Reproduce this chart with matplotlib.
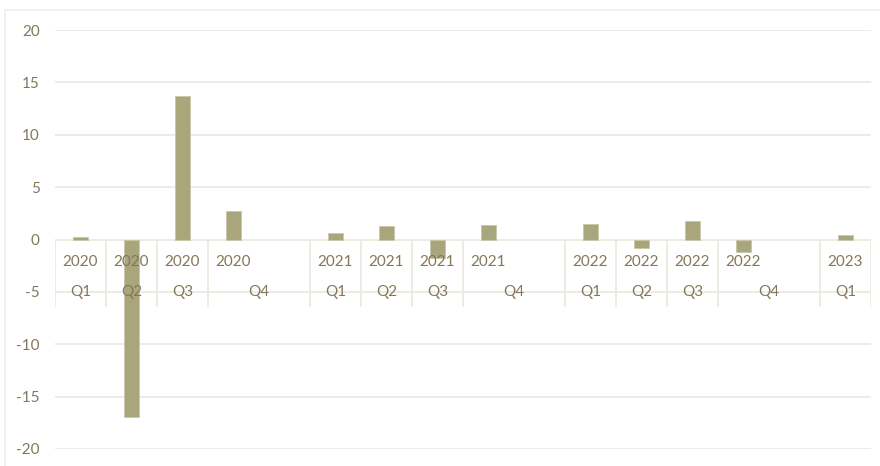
import matplotlib.pyplot as plt

# one slot per quarter; Q4 takes two slots (second one empty)
years = ['2020', '2020', '2020', '2020', '',
         '2021', '2021', '2021', '2021', '',
         '2022', '2022', '2022', '2022', '',
         '2023']
quarters = ['Q1', 'Q2', 'Q3', 'Q4', '',
            'Q1', 'Q2', 'Q3', 'Q4', '',
            'Q1', 'Q2', 'Q3', 'Q4', '',
            'Q1']
values = [0.2, -16.9, 13.7, 2.7, None,
          0.6, 1.3, -1.8, 1.4, None,
          1.45, -0.8, 1.75, -1.15, None,
          0.4]

bar_color = '#A9A67B'
text_color = '#847759'
grid_color = '#ECEADF'

plt.rcParams['font.family'] = ['Lato', 'DejaVu Sans']
plt.rcParams['axes.unicode_minus'] = False

fig = plt.figure(figsize=(8.8, 4.66), dpi=100)
ax = fig.add_axes([55 / 880, 17 / 466, 816 / 880, 419 / 466])

xs = [i for i, v in enumerate(values) if v is not None]
vs = [v for v in values if v is not None]
ax.bar(xs, vs, width=0.31, color=bar_color, edgecolor='#C9C7A8',
       linewidth=0.6, zorder=3)

ax.set_xlim(-0.5, len(values) - 0.5)
ax.set_ylim(-20, 20)
ax.set_yticks(range(-20, 21, 5))
ax.set_xticks([])
ax.yaxis.grid(True, color=grid_color, linewidth=1.3, zorder=0)
ax.set_axisbelow(True)
for s in ax.spines.values():
    s.set_visible(False)
ax.tick_params(axis='y', length=0, pad=11, labelsize=11,
               labelcolor=text_color)

# multi-level category labels
for i, (yr, q) in enumerate(zip(years, quarters)):
    if yr:
        ax.text(i, -2.15, yr, ha='center', va='center', fontsize=11,
                color=text_color, zorder=4)
    if q:
        xq = i + 0.5 if q == 'Q4' else i
        ax.text(xq, -5.0, q, ha='center', va='center', fontsize=11,
                color=text_color, zorder=4)

# separators between categories in label area
seps = [-0.5, 0.5, 1.5, 2.5, 4.5, 5.5, 6.5, 7.5, 9.5, 10.5, 11.5, 12.5, 14.5, 15.5]
ax.vlines(seps, -6.4, 0, color=grid_color, linewidth=1.3, zorder=1)

# light frame around chart area
frame = plt.Rectangle((5 / 880, -0.05), 1.2, 1 - 10 / 466 + 0.05,
                      transform=fig.transFigure, fill=False,
                      edgecolor='#EFEDE5', linewidth=1.2)
fig.patches.append(frame)

fig.savefig('out.png', dpi=100)
